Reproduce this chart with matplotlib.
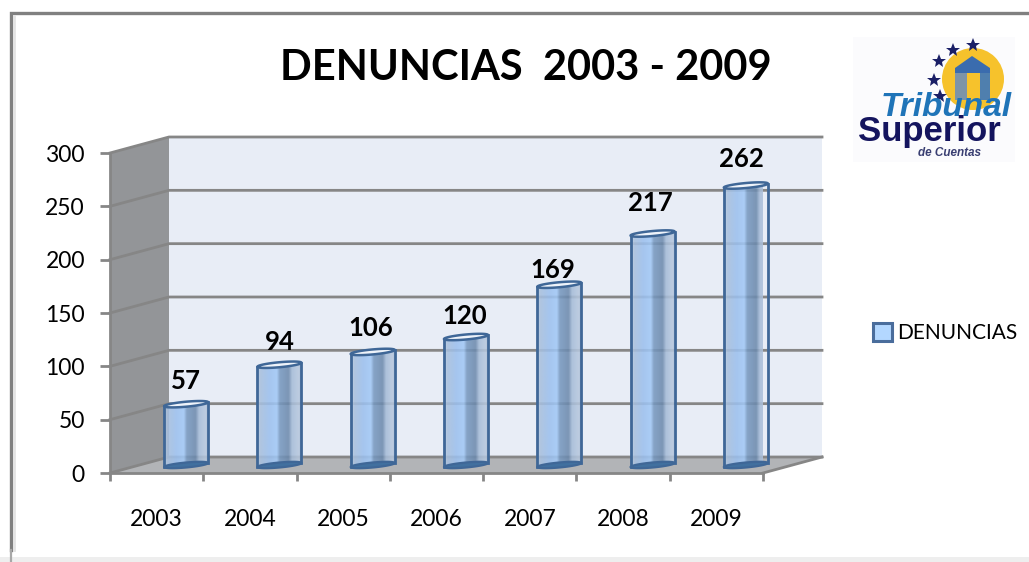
import numpy as np
import matplotlib
matplotlib.use("Agg")
import matplotlib.pyplot as plt
from matplotlib.colors import to_rgb
from matplotlib.patches import Patch, Polygon, Circle, Rectangle

plt.rcParams['font.family'] = ['Lato', 'DejaVu Sans']

years = ['2003', '2004', '2005', '2006', '2007', '2008', '2009']
denuncias = [57, 94, 106, 120, 169, 217, 262]
y_ticks = [0, 50, 100, 150, 200, 250, 300]
# hand placed data labels in the original, nudges in pixels
label_dx = [0, 0, -2, -1, -7, -2, -4]
label_dy = [-1, -2, -1, -3, -9, 6, 2]

W, H = 1029, 562
# front plane of the chart, in pixels
LEFT, RIGHT, BOTTOM, TOP = 110, 763, 473, 153
PX_X = (RIGHT - LEFT) / 7    # pixels per category
PX_Y = (BOTTOM - TOP) / 300  # pixels per value unit
DEPTH_X = 59 / PX_X
DEPTH_Y = 16 / PX_Y
BAR_W = 44 / PX_X
GREY = '#868686'
BAR_EDGE = '#3f6797'

fig = plt.figure(figsize=(W / 100, H / 100), dpi=100, facecolor='white')

# background layer in pixels: frame and logo
bg = fig.add_axes([0, 0, 1, 1])
bg.set_xlim(0, W)
bg.set_ylim(H, 0)
bg.axis('off')
bg.plot([11, 11, W], [550, 13, 13], color='#808080', lw=2.4, solid_joinstyle='miter')
bg.plot([14, 14], [16, 550], color='#e4e4e4', lw=2)
bg.plot([11, 11], [550, H], color='#a8a8a8', lw=1.6)
bg.add_patch(Rectangle((0, 557), W, 5, color='#eeeeee', lw=0))

# logo
bg.add_patch(Rectangle((853, 37), 162, 125, color='#fbfbfd', lw=0))
bg.add_patch(Circle((973, 79), 31, color='#f6c22c', lw=0))
bg.add_patch(Rectangle((955, 72), 12, 28, color='#7d94a8', lw=0))
bg.add_patch(Rectangle((980, 72), 10, 28, color='#4f7fae', lw=0))
bg.add_patch(Polygon([[955, 68], [972, 56], [990, 68], [990, 73], [955, 73]], color='#3a6cae', lw=0))
for sx, sy in [(973, 45), (953, 50), (939, 61), (934, 80), (940, 96)]:
    bg.plot(sx, sy, marker='*', ms=10, color='#1a1f66', mew=0)
bg.text(946, 107, 'Tribunal', family='Liberation Sans', weight='bold', style='italic',
        size=24, color='#1f74b8', ha='center', va='center')
bg.text(929, 131, 'Superior', family='Liberation Sans', weight='bold',
        size=25, color='#14145e', ha='center', va='center')
bg.text(950, 153, 'de Cuentas', family='Liberation Sans', weight='bold', style='italic',
        size=8.5, color='#3a3f72', ha='center', va='center')

bg.text(526, 68, 'DENUNCIAS  2003 - 2009', weight='bold', size=30,
        color='black', ha='center', va='center')

# main axes, front plane of the 3d box
ax = fig.add_axes([LEFT / W, 1 - BOTTOM / H, (RIGHT - LEFT) / W, (BOTTOM - TOP) / H])
ax.patch.set_alpha(0)

# back wall, side wall, floor
ax.add_patch(Polygon([[DEPTH_X, DEPTH_Y], [7 + DEPTH_X, DEPTH_Y],
                      [7 + DEPTH_X, 300 + DEPTH_Y], [DEPTH_X, 300 + DEPTH_Y]],
                     color='#e8edf6', lw=0, clip_on=False, zorder=1))
ax.add_patch(Polygon([[0, 0], [DEPTH_X, DEPTH_Y], [DEPTH_X, 300 + DEPTH_Y], [0, 300]],
                     color='#939598', lw=0, clip_on=False, zorder=1))
ax.add_patch(Polygon([[0, 0], [7, 0], [7 + DEPTH_X, DEPTH_Y], [DEPTH_X, DEPTH_Y]],
                     color='#b2b4b7', lw=0, clip_on=False, zorder=2))
for v in y_ticks:
    ax.plot([0, DEPTH_X, 7 + DEPTH_X], [v, v + DEPTH_Y, v + DEPTH_Y], color=GREY, lw=2,
            clip_on=False, zorder=2, solid_joinstyle='miter')
ax.plot([7, 7 + DEPTH_X], [0, DEPTH_Y], color=GREY, lw=2, clip_on=False, zorder=3)

# horizontal shading of the cylinders
stops = [0.0, 0.08, 0.28, 0.45, 0.52, 0.72, 0.80, 0.95, 1.0]
cols = ['#bccce0', '#a8c0de', '#9cc0ee', '#a3c9f6', '#7899c0', '#6d8aad', '#a6bcd8', '#b7c8de', '#aabcd4']
pos = np.linspace(0, 1, 100)
rgb = np.array([to_rgb(c) for c in cols])
grad = np.ones((1, 100, 4))
for i in range(3):
    grad[0, :, i] = np.interp(pos, stops, rgb[:, i])
grad[0, :, 3] = 0.88

t = np.linspace(0, 2 * np.pi, 80)
ell_h = 2.5 / PX_Y
ell_s = 2.0 / PX_Y


def ellipse(xc, yc):
    return xc + BAR_W / 2 * np.cos(t), yc + ell_h * np.sin(t) + ell_s * np.cos(t)


for i, val in enumerate(denuncias):
    xc = i + 0.5 + DEPTH_X / 2
    y0 = DEPTH_Y / 2
    y1 = y0 + val
    # body, clipped to the cylinder outline
    tx, ty = ellipse(xc, y1)
    lx, ly = ellipse(xc, y0)
    outline = np.column_stack([np.r_[tx[:40], lx[40:]], np.r_[ty[:40], ly[40:]]])
    im = ax.imshow(grad, extent=[xc - BAR_W / 2, xc + BAR_W / 2, y0 - 10, y1 + 10],
                   aspect='auto', zorder=5, interpolation='bilinear')
    clip = Polygon(outline, transform=ax.transData, fill=False, lw=0, clip_on=False)
    ax.add_patch(clip)
    im.set_clip_path(clip)
    # base on top of the body, the cylinder is see-through
    ax.fill(lx, ly, facecolor='#41709f', edgecolor=BAR_EDGE, lw=1.6, clip_on=False, zorder=6)
    # edges
    ax.plot([xc - BAR_W / 2, xc - BAR_W / 2], [y0 - ell_s, y1 - ell_s], color=BAR_EDGE, lw=2,
            clip_on=False, zorder=6)
    ax.plot([xc + BAR_W / 2, xc + BAR_W / 2], [y0 + ell_s, y1 + ell_s], color=BAR_EDGE, lw=2,
            clip_on=False, zorder=6)
    ax.fill(tx, ty, facecolor='#eef3fa', edgecolor=BAR_EDGE, lw=1.8, clip_on=False, zorder=7)
    ax.text(xc + label_dx[i] / PX_X, y1 + (23 + label_dy[i]) * 1.0, str(val), weight='bold', size=18.5,
            color='black', ha='center', va='center', zorder=8)

ax.set_xlim(0, 7)
ax.set_ylim(0, 300)
ax.set_yticks(y_ticks)
ax.set_xticks(range(8))
ax.set_xticklabels([])
ax.set_xticks(np.arange(7) + 0.5, years, minor=True)
ax.tick_params(axis='x', which='major', length=6, width=2, color=GREY)
ax.tick_params(axis='x', which='minor', length=0, pad=26, labelsize=16.5)
ax.tick_params(axis='y', length=7, width=2, color=GREY, labelsize=16.5, pad=11)
for side in ['top', 'right']:
    ax.spines[side].set_visible(False)
for side in ['left', 'bottom']:
    ax.spines[side].set_color(GREY)
    ax.spines[side].set_linewidth(2)
    ax.spines[side].set_zorder(3)

ax.legend(handles=[Patch(facecolor='#b3d7ff', edgecolor='#4a6d9c', lw=2.2, label='DENUNCIAS')],
          loc='center left', bbox_to_anchor=((873 - LEFT) / (RIGHT - LEFT), (BOTTOM - 333) / (BOTTOM - TOP)),
          frameon=False, fontsize=15, handlelength=0.92, handleheight=0.95, handletextpad=0.25,
          borderpad=0, borderaxespad=0)

fig.savefig('out.png', dpi=100)
